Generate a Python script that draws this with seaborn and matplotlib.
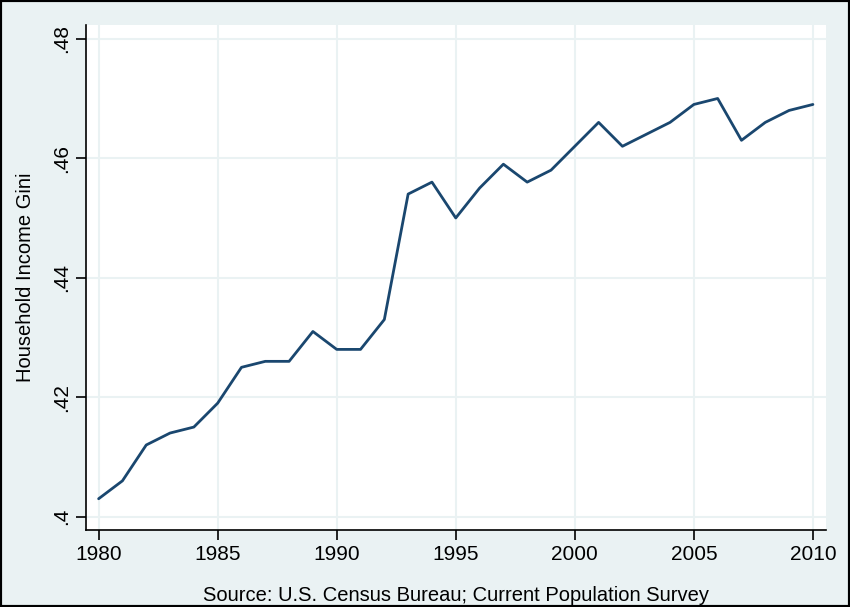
import matplotlib
matplotlib.use("Agg")
import matplotlib.pyplot as plt
import seaborn as sns
import pandas as pd

years = list(range(1980, 2011))
gini = [0.403, 0.406, 0.412, 0.414, 0.415, 0.419, 0.425, 0.426, 0.426, 0.431,
        0.428, 0.428, 0.433, 0.454, 0.456, 0.450, 0.455, 0.459, 0.456, 0.458,
        0.462, 0.466, 0.462, 0.464, 0.466, 0.469, 0.470, 0.463, 0.466, 0.468,
        0.469]
x_ticks = [1980, 1985, 1990, 1995, 2000, 2005, 2010]
y_ticks = [0.40, 0.42, 0.44, 0.46, 0.48]
y_labels = [".4", ".42", ".44", ".46", ".48"]

df = pd.DataFrame({"year": years, "gini": gini})

sns.set_style("white")
plt.rcParams["font.family"] = ["Liberation Sans", "DejaVu Sans"]

bg = "#EAF2F3"
fig = plt.figure(figsize=(8.5, 6.07), dpi=100, facecolor=bg)
ax = fig.add_axes([86 / 850, 1 - 530 / 607, (826 - 86) / 850, (530 - 25) / 607])

sns.lineplot(data=df, x="year", y="gini", ax=ax, color="#1A476F", linewidth=2)

ax.set_xlim(1979.47, 2010.55)
ax.set_ylim(0.39777, 0.4823)
ax.set_xticks(x_ticks)
ax.set_yticks(y_ticks)
ax.set_yticklabels(y_labels, rotation=90, va="center")
ax.grid(True, color=bg, linewidth=1.5)
ax.set_axisbelow(True)
for side in ["top", "right"]:
    ax.spines[side].set_visible(False)
for side in ["left", "bottom"]:
    ax.spines[side].set_color("black")
    ax.spines[side].set_linewidth(1.2)
ax.tick_params(axis="both", direction="out", length=7, width=1.2, color="black",
               labelsize=15, labelcolor="black", left=True, bottom=True)
ax.tick_params(axis="y", pad=4)
ax.set_xlabel("Source: U.S. Census Bureau; Current Population Survey",
              fontsize=14.5, labelpad=16, color="black")
ax.set_ylabel("Household Income Gini", fontsize=14.5, labelpad=12, color="black")

border = plt.Rectangle((0, 0), 1, 1, transform=fig.transFigure, fill=False,
                       edgecolor="black", linewidth=3)
fig.patches.append(border)

fig.savefig("out.png", dpi=100, facecolor=bg)
